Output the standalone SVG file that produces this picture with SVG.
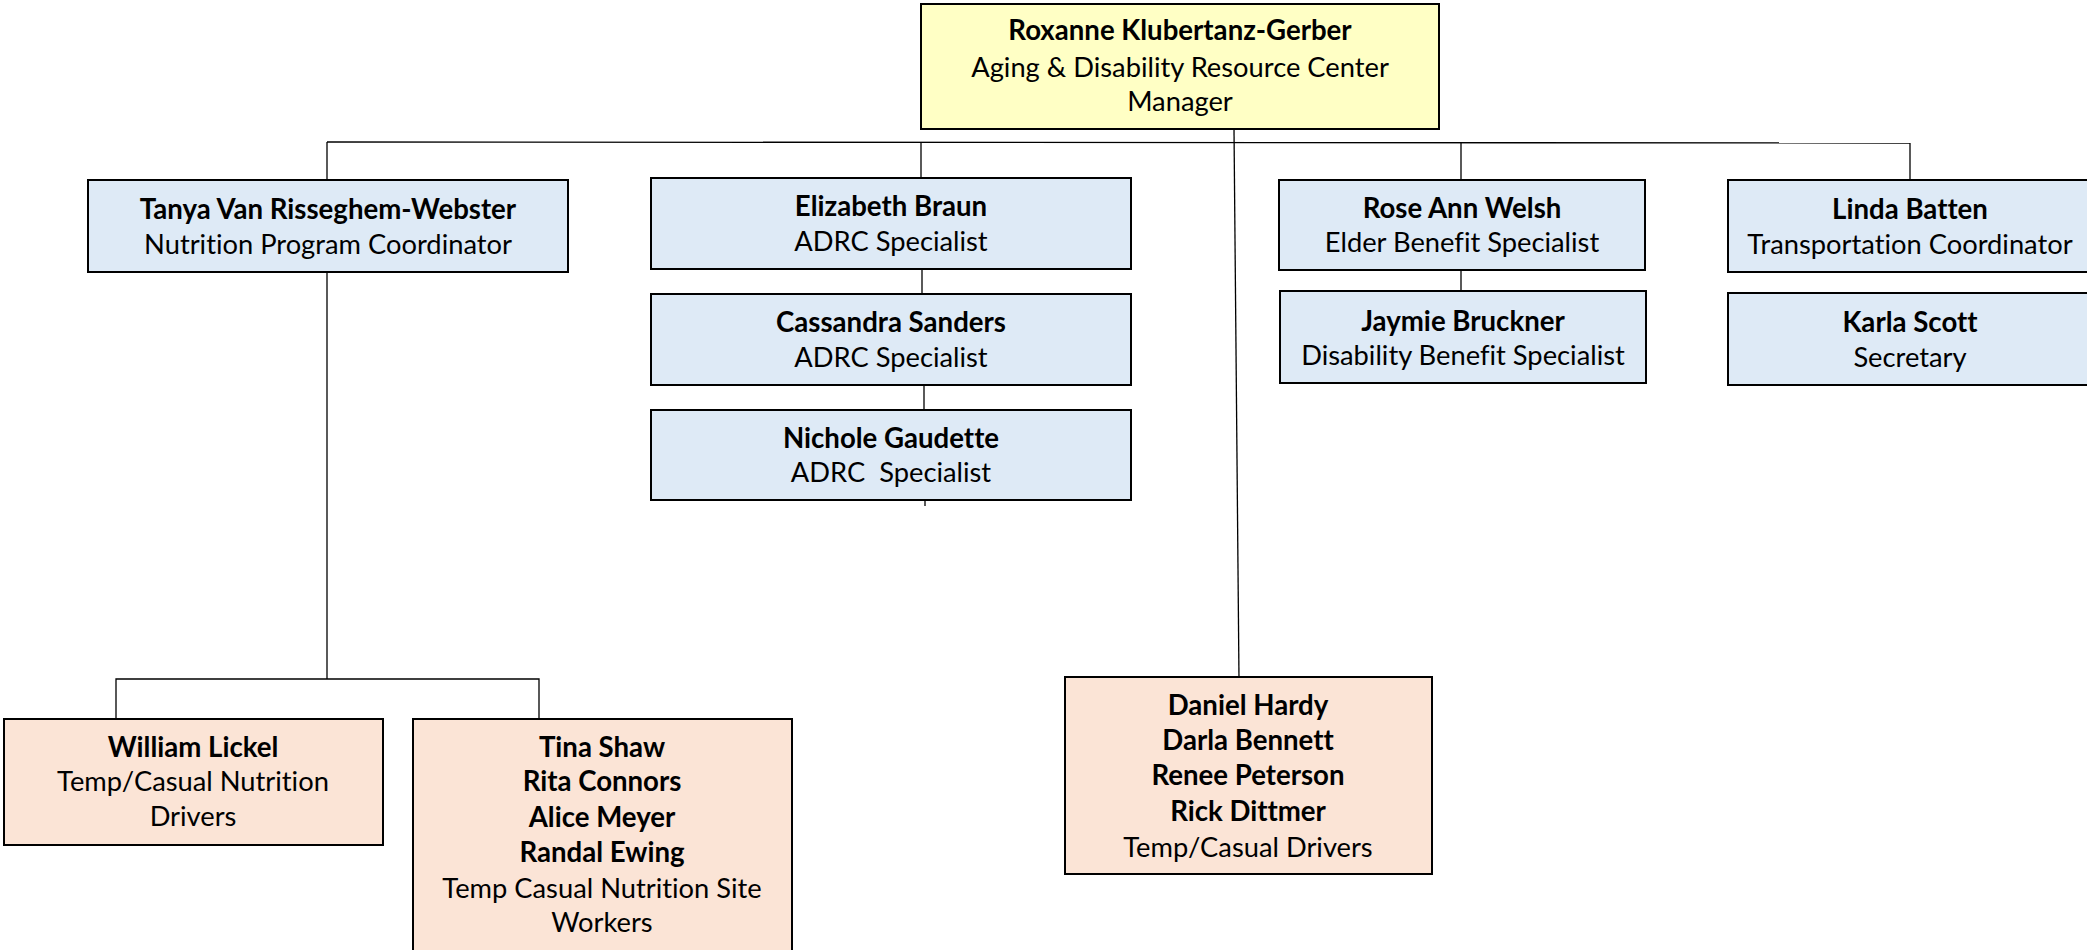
<svg xmlns="http://www.w3.org/2000/svg" width="2087" height="950" viewBox="0 0 2087 950">
<style>
.box{stroke:#000;stroke-width:2}
.y{fill:#FFFFC5}
.b{fill:#DEEAF6}
.p{fill:#FBE4D6}
text{font-family:Lato,"Open Sans",sans-serif;font-size:27.3px;fill:#000;text-anchor:middle;font-variant-ligatures:none}
.n{font-weight:bold;font-size:27.6px}
.c{stroke:#000;stroke-width:1.3;fill:none}
</style>
<rect width="2087" height="950" fill="#fff"/>
<g id="connectors">
<path class="c" d="M1234 129 L1239 679"/>
<path class="c" d="M327 142 L1910 143"/>
<path class="c" d="M327 142 V180"/>
<path class="c" d="M921 142 V178"/>
<path class="c" d="M1461 143 V180"/>
<path class="c" d="M1910 143 V180"/>
<path class="c" d="M922 269 V294"/>
<path class="c" d="M924 385 V410"/>
<path class="c" d="M925 500 V506"/>
<path class="c" d="M1461 270 V291"/>
<path class="c" d="M327 272 V679"/>
<path class="c" d="M116 719 V679 H539 V719"/>
</g>
<g id="manager">
<rect class="box y" x="921" y="4" width="518" height="125"/>
<text class="n" x="1180" y="40">Roxanne Klubertanz-Gerber</text>
<text x="1180" y="77">Aging &amp; Disability Resource Center</text>
<text x="1180" y="111">Manager</text>
</g>
<g id="tanya">
<rect class="box b" x="88" y="180" width="480" height="92"/>
<text class="n" x="328" y="219">Tanya Van Risseghem-Webster</text>
<text x="328" y="254">Nutrition Program Coordinator</text>
</g>
<g id="elizabeth">
<rect class="box b" x="651" y="178" width="480" height="91"/>
<text class="n" x="891" y="216">Elizabeth Braun</text>
<text x="891" y="251">ADRC Specialist</text>
</g>
<g id="cassandra">
<rect class="box b" x="651" y="294" width="480" height="91"/>
<text class="n" x="891" y="332">Cassandra Sanders</text>
<text x="891" y="367">ADRC Specialist</text>
</g>
<g id="nichole">
<rect class="box b" x="651" y="410" width="480" height="90"/>
<text class="n" x="891" y="448">Nichole Gaudette</text>
<text x="891" y="482" xml:space="preserve">ADRC  Specialist</text>
</g>
<g id="rose">
<rect class="box b" x="1279" y="180" width="366" height="90"/>
<text class="n" x="1462" y="218">Rose Ann Welsh</text>
<text x="1462" y="252">Elder Benefit Specialist</text>
</g>
<g id="jaymie">
<rect class="box b" x="1280" y="291" width="366" height="92"/>
<text class="n" x="1463" y="331">Jaymie Bruckner</text>
<text x="1463" y="365">Disability Benefit Specialist</text>
</g>
<g id="linda">
<rect class="box b" x="1728" y="180" width="370" height="92"/>
<text class="n" x="1910" y="219">Linda Batten</text>
<text x="1910" y="254">Transportation Coordinator</text>
</g>
<g id="karla">
<rect class="box b" x="1728" y="293" width="370" height="92"/>
<text class="n" x="1910" y="332">Karla Scott</text>
<text x="1910" y="367">Secretary</text>
</g>
<g id="william">
<rect class="box p" x="4" y="719" width="379" height="126"/>
<text class="n" x="193" y="757">William Lickel</text>
<text x="193" y="791">Temp/Casual Nutrition</text>
<text x="193" y="826">Drivers</text>
</g>
<g id="tina">
<rect class="box p" x="413" y="719" width="379" height="240"/>
<text class="n" x="602" y="757">Tina Shaw</text>
<text class="n" x="602" y="791">Rita Connors</text>
<text class="n" x="602" y="827">Alice Meyer</text>
<text class="n" x="602" y="862">Randal Ewing</text>
<text x="602" y="898">Temp Casual Nutrition Site</text>
<text x="602" y="932">Workers</text>
</g>
<g id="drivers">
<rect class="box p" x="1065" y="677" width="367" height="197"/>
<text class="n" x="1248" y="715">Daniel Hardy</text>
<text class="n" x="1248" y="750">Darla Bennett</text>
<text class="n" x="1248" y="785">Renee Peterson</text>
<text class="n" x="1248" y="821">Rick Dittmer</text>
<text x="1248" y="857">Temp/Casual Drivers</text>
</g>
</svg>
